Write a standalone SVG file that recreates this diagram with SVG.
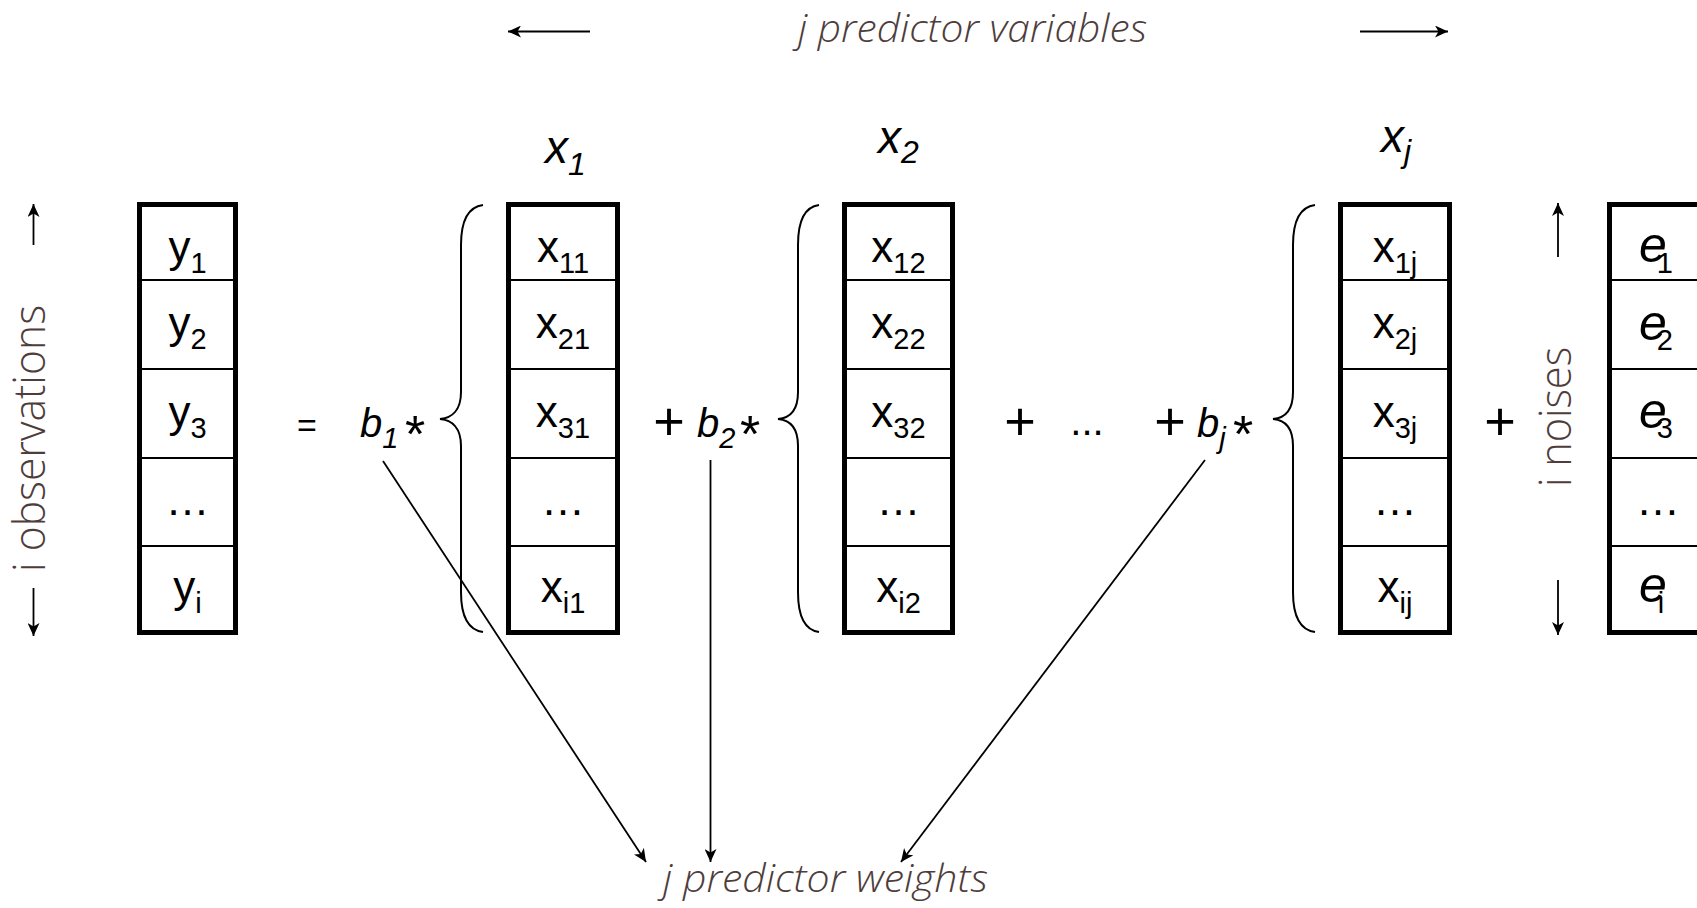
<svg xmlns="http://www.w3.org/2000/svg" width="1697" height="908" viewBox="0 0 1697 908">
<defs>
<marker id="ah" markerUnits="userSpaceOnUse" markerWidth="14" markerHeight="12" refX="13" refY="6" orient="auto">
<path d="M0,0 L13,6 L0,12 L3.5,6 z" fill="#000"/>
</marker>
<style>
.box{fill:#fff;stroke:#000;stroke-width:5}
.sep{stroke:#000;stroke-width:2}
.cell{font-family:"Liberation Sans",Arial,sans-serif;font-size:44px;fill:#000;text-anchor:middle}
.sub{font-size:29px}
.ev{font-family:"Liberation Sans",Arial,sans-serif;font-size:50px;font-style:italic;fill:#000}
.esub{font-style:normal;font-size:29px}
.brace{fill:none;stroke:#000;stroke-width:2}
.lbl{font-family:"Open Sans","Liberation Sans",Arial,sans-serif;font-weight:300;font-style:italic;fill:#4e3d3b}
.side{font-family:"Open Sans","Liberation Sans",Arial,sans-serif;font-weight:300;font-size:44px;fill:#4e3d3b}
.math{font-family:"Liberation Sans",Arial,sans-serif;fill:#000}
.conn{stroke:#000;stroke-width:1.8;fill:none}
</style>
</defs>
<rect width="1697" height="908" fill="#fff"/>

<g id="col-y">
<rect class="box" x="139.5" y="204.5" width="96" height="428"/>
<line class="sep" x1="139.5" y1="280" x2="235.5" y2="280"/>
<line class="sep" x1="139.5" y1="369" x2="235.5" y2="369"/>
<line class="sep" x1="139.5" y1="458" x2="235.5" y2="458"/>
<line class="sep" x1="139.5" y1="546" x2="235.5" y2="546"/>
<text class="cell" x="187.5" y="262">y<tspan class="sub" dy="11">1</tspan></text>
<text class="cell" x="187.5" y="338">y<tspan class="sub" dy="11">2</tspan></text>
<text class="cell" x="187.5" y="427">y<tspan class="sub" dy="11">3</tspan></text>
<text class="cell" x="187.5" y="515">…</text>
<text class="cell" x="187.5" y="602">y<tspan class="sub" dy="11">i</tspan></text>
</g>

<g id="col-x1">
<rect class="box" x="508.5" y="204.5" width="109" height="428"/>
<line class="sep" x1="508.5" y1="280" x2="617.5" y2="280"/>
<line class="sep" x1="508.5" y1="369" x2="617.5" y2="369"/>
<line class="sep" x1="508.5" y1="458" x2="617.5" y2="458"/>
<line class="sep" x1="508.5" y1="546" x2="617.5" y2="546"/>
<text class="cell" x="563" y="262">x<tspan class="sub" dy="11">11</tspan></text>
<text class="cell" x="563" y="338">x<tspan class="sub" dy="11">21</tspan></text>
<text class="cell" x="563" y="427">x<tspan class="sub" dy="11">31</tspan></text>
<text class="cell" x="563" y="515">…</text>
<text class="cell" x="563" y="602">x<tspan class="sub" dy="11">i1</tspan></text>
</g>

<g id="col-x2">
<rect class="box" x="844.5" y="204.5" width="108" height="428"/>
<line class="sep" x1="844.5" y1="280" x2="952.5" y2="280"/>
<line class="sep" x1="844.5" y1="369" x2="952.5" y2="369"/>
<line class="sep" x1="844.5" y1="458" x2="952.5" y2="458"/>
<line class="sep" x1="844.5" y1="546" x2="952.5" y2="546"/>
<text class="cell" x="898.5" y="262">x<tspan class="sub" dy="11">12</tspan></text>
<text class="cell" x="898.5" y="338">x<tspan class="sub" dy="11">22</tspan></text>
<text class="cell" x="898.5" y="427">x<tspan class="sub" dy="11">32</tspan></text>
<text class="cell" x="898.5" y="515">…</text>
<text class="cell" x="898.5" y="602">x<tspan class="sub" dy="11">i2</tspan></text>
</g>

<g id="col-xj">
<rect class="box" x="1340.5" y="204.5" width="109" height="428"/>
<line class="sep" x1="1340.5" y1="280" x2="1449.5" y2="280"/>
<line class="sep" x1="1340.5" y1="369" x2="1449.5" y2="369"/>
<line class="sep" x1="1340.5" y1="458" x2="1449.5" y2="458"/>
<line class="sep" x1="1340.5" y1="546" x2="1449.5" y2="546"/>
<text class="cell" x="1395" y="262">x<tspan class="sub" dy="11">1j</tspan></text>
<text class="cell" x="1395" y="338">x<tspan class="sub" dy="11">2j</tspan></text>
<text class="cell" x="1395" y="427">x<tspan class="sub" dy="11">3j</tspan></text>
<text class="cell" x="1395" y="515">…</text>
<text class="cell" x="1395" y="602">x<tspan class="sub" dy="11">ij</tspan></text>
</g>

<g id="col-e">
<rect class="box" x="1609.5" y="204.5" width="120" height="428"/>
<line class="sep" x1="1609.5" y1="280" x2="1700" y2="280"/>
<line class="sep" x1="1609.5" y1="369" x2="1700" y2="369"/>
<line class="sep" x1="1609.5" y1="458" x2="1700" y2="458"/>
<line class="sep" x1="1609.5" y1="546" x2="1700" y2="546"/>
<text class="ev" x="1639" y="262">e<tspan class="esub" dx="-10" dy="11">1</tspan></text>
<text class="ev" x="1639" y="340">e<tspan class="esub" dx="-10" dy="10">2</tspan></text>
<text class="ev" x="1639" y="428">e<tspan class="esub" dx="-10" dy="10">3</tspan></text>
<text class="cell" x="1658" y="515">…</text>
<text class="ev" x="1639" y="602">e<tspan class="esub" dx="-9" dy="11">i</tspan></text>
</g>

<g id="braces">
<path class="brace" d="M483,205 C468,207 461,222 461,245 L461,392 C461,410 452,418 440,419 C452,420 461,428 461,446 L461,592 C461,615 468,630 483,632"/>
<path class="brace" d="M819,205 C804,207 798,222 798,245 L798,392 C798,410 790,418 778,419 C790,420 798,428 798,446 L798,592 C798,615 804,630 819,632"/>
<path class="brace" d="M1315,205 C1300,207 1293,222 1293,245 L1293,392 C1293,410 1285,418 1273,419 C1285,420 1293,428 1293,446 L1293,592 C1293,615 1300,630 1315,632"/>
</g>

<g id="operators">
<text class="math" x="307" y="437" font-size="34" text-anchor="middle" fill="#666">=</text>
<text class="math" x="360" y="437" font-size="40" font-style="italic">b<tspan font-size="29" dy="11">1</tspan></text>
<text class="math" x="405" y="452" font-size="52">*</text>
<text class="math" x="669" y="440" font-size="54" text-anchor="middle">+</text>
<text class="math" x="697" y="437" font-size="40" font-style="italic">b<tspan font-size="29" dy="11">2</tspan></text>
<text class="math" x="740" y="452" font-size="52">*</text>
<text class="math" x="1020" y="440" font-size="54" text-anchor="middle">+</text>
<text class="math" x="1087" y="435" font-size="40" text-anchor="middle">...</text>
<text class="math" x="1170" y="440" font-size="54" text-anchor="middle">+</text>
<text class="math" x="1197" y="437" font-size="40" font-style="italic">b<tspan font-size="29" dy="11">j</tspan></text>
<text class="math" x="1233" y="452" font-size="52">*</text>
<text class="math" x="1500" y="440" font-size="54" text-anchor="middle">+</text>
</g>

<g id="headers">
<text class="math" x="545" y="163" font-size="46" font-style="italic">x<tspan font-size="32" dy="12">1</tspan></text>
<text class="math" x="878" y="153" font-size="46" font-style="italic">x<tspan font-size="32" dy="10">2</tspan></text>
<text class="math" x="1381" y="152" font-size="46" font-style="italic">x<tspan font-size="32" dy="10">j</tspan></text>
</g>

<g id="labels">
<text class="lbl" x="798" y="42" font-size="38" textLength="349" lengthAdjust="spacingAndGlyphs">j predictor variables</text>
<text class="lbl" x="663" y="892" font-size="38" textLength="325" lengthAdjust="spacingAndGlyphs">j predictor weights</text>
<text class="side" transform="translate(45,572) rotate(-90)" textLength="267" lengthAdjust="spacingAndGlyphs">i observations</text>
<text class="side" transform="translate(1571,487) rotate(-90)" textLength="140" lengthAdjust="spacingAndGlyphs">i noises</text>
</g>

<g id="connectors">
<line class="conn" x1="590" y1="31.5" x2="508" y2="31.5" marker-end="url(#ah)"/>
<line class="conn" x1="1360" y1="31.5" x2="1448" y2="31.5" marker-end="url(#ah)"/>
<line class="conn" x1="33.5" y1="245" x2="33.5" y2="204" marker-end="url(#ah)"/>
<line class="conn" x1="33.5" y1="588" x2="33.5" y2="636" marker-end="url(#ah)"/>
<line class="conn" x1="1558" y1="257" x2="1558" y2="203" marker-end="url(#ah)"/>
<line class="conn" x1="1558" y1="580" x2="1558" y2="635" marker-end="url(#ah)"/>
<line class="conn" x1="383" y1="461" x2="646" y2="862" marker-end="url(#ah)"/>
<line class="conn" x1="710.5" y1="460" x2="710.5" y2="862" marker-end="url(#ah)"/>
<line class="conn" x1="1205" y1="460" x2="901" y2="862" marker-end="url(#ah)"/>
</g>
</svg>
